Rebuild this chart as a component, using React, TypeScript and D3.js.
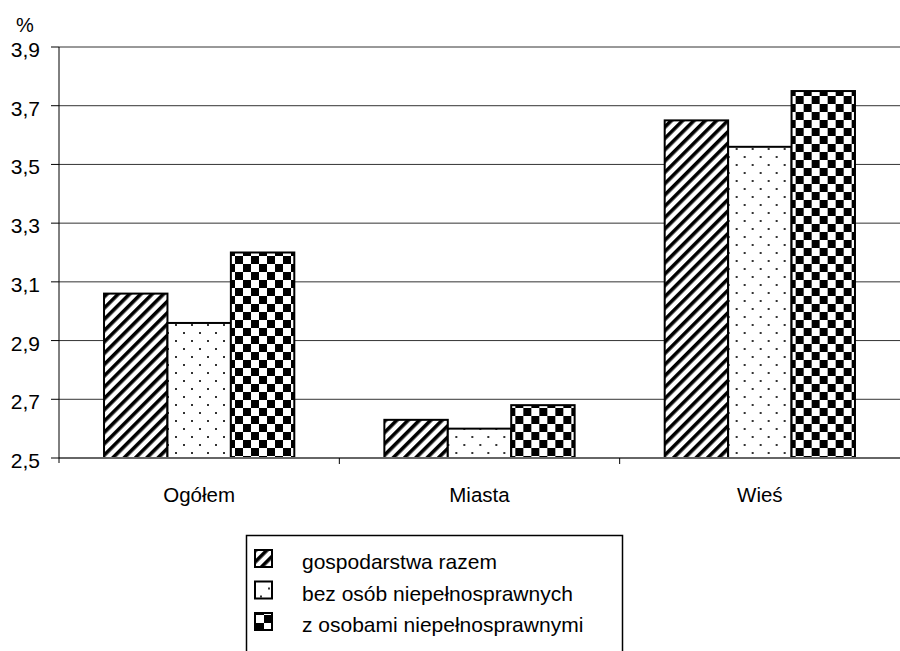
import React from 'react';
import * as d3 from 'd3';

const categories = ['Ogółem', 'Miasta', 'Wieś'];
const seriesNames = ['gospodarstwa razem', 'bez osób niepełnosprawnych', 'z osobami niepełnosprawnymi'];
const razem = [3.06, 2.63, 3.65];
const bezOsob = [2.96, 2.6, 3.56];
const zOsobami = [3.2, 2.68, 3.75];
const yTicks = [2.5, 2.7, 2.9, 3.1, 3.3, 3.5, 3.7, 3.9];

const series = [razem, bezOsob, zOsobami];
const patternIds = ['pat-diag', 'pat-dots', 'pat-check'];

const width = 900;
const height = 651;
const plot = { left: 59, right: 900, top: 47, bottom: 458 };
const font = 'Arial, "Liberation Sans", sans-serif';

const App: React.FC = () => {
	const x = d3.scaleBand<string>().domain(categories).range([plot.left, plot.right]).paddingInner(0).paddingOuter(0);
	const inner = d3
		.scaleBand<number>()
		.domain(series.map((_, i) => i))
		.range([0, x.bandwidth()])
		.paddingOuter(0.71)
		.paddingInner(0);
	const y = d3.scaleLinear().domain([2.5, 3.9]).range([plot.bottom, plot.top]);
	const fmt = (v: number) => d3.format('.1f')(v).replace('.', ',');

	return (
		<svg width={width} height={height} style={{ position: 'absolute', left: 0, top: 0, background: '#fff' }}>
			<defs>
				<pattern id="pat-diag" width={8} height={8} patternUnits="userSpaceOnUse" patternTransform="rotate(45)">
					<rect width={8} height={8} fill="#fff" />
					<rect x={0} y={0} width={3.6} height={8} fill="#000" />
				</pattern>
				<pattern id="pat-dots" width={16} height={16} patternUnits="userSpaceOnUse" x={4} y={4}>
					<rect width={16} height={16} fill="#fff" />
					<rect x={0} y={0} width={2} height={2} fill="#333" />
					<rect x={8} y={8} width={2} height={2} fill="#333" />
				</pattern>
				<pattern id="pat-check" width={16} height={16} patternUnits="userSpaceOnUse">
					<rect width={16} height={16} fill="#fff" />
					<rect x={0} y={0} width={8} height={8} fill="#000" />
					<rect x={8} y={8} width={8} height={8} fill="#000" />
				</pattern>
			</defs>

			{/* gridlines and y ticks */}
			{yTicks.map((t) => (
				<g key={t}>
					<line x1={plot.left - 8} x2={plot.left} y1={y(t)} y2={y(t)} stroke="#000" strokeWidth={1} />
					{t > 2.5 && (
						<line x1={plot.left} x2={plot.right} y1={y(t)} y2={y(t)} stroke="#333" strokeWidth={1} />
					)}
					<text x={40} y={y(t) + 10} textAnchor="end" fontFamily={font} fontSize={21} fill="#000">
						{fmt(t)}
					</text>
				</g>
			))}
			<text x={25} y={32} textAnchor="middle" fontFamily={font} fontSize={20} fill="#000">
				%
			</text>

			{/* bars */}
			{categories.map((c, ci) => (
				<g key={c} transform={`translate(${x(c)},0)`}>
					{series.map((s, si) => (
						<rect
							key={si}
							x={inner(si)}
							y={y(s[ci])}
							width={inner.bandwidth()}
							height={plot.bottom - y(s[ci])}
							fill={`url(#${patternIds[si]})`}
							stroke="#000"
							strokeWidth={2}
						/>
					))}
				</g>
			))}

			{/* axes */}
			<line x1={plot.left} x2={plot.right} y1={plot.bottom} y2={plot.bottom} stroke="#666" strokeWidth={2} />
			<line x1={plot.left} x2={plot.left} y1={plot.top} y2={plot.bottom + 5} stroke="#000" strokeWidth={1} />
			{categories.map((c, ci) =>
				ci > 0 ? (
					<line key={c} x1={x(c)} x2={x(c)} y1={plot.bottom} y2={plot.bottom + 6} stroke="#000" strokeWidth={1} />
				) : null
			)}
			{categories.map((c) => (
				<text
					key={c}
					x={(x(c) as number) + x.bandwidth() / 2}
					y={502}
					textAnchor="middle"
					fontFamily={font}
					fontSize={20.5}
					fill="#000"
				>
					{c}
				</text>
			))}

			{/* legend */}
			<rect x={246.5} y={535.5} width={376} height={125} fill="#fff" stroke="#000" strokeWidth={1.5} />
			{seriesNames.map((n, i) => (
				<g key={n} transform={`translate(0,${i * 31.5})`}>
					<rect x={255} y={550} width={17} height={17} fill={`url(#${patternIds[i]})`} stroke="#000" strokeWidth={2} />
					<text x={302} y={569} fontFamily={font} fontSize={21} fill="#000">
						{n}
					</text>
				</g>
			))}
		</svg>
	);
};

export default App;
